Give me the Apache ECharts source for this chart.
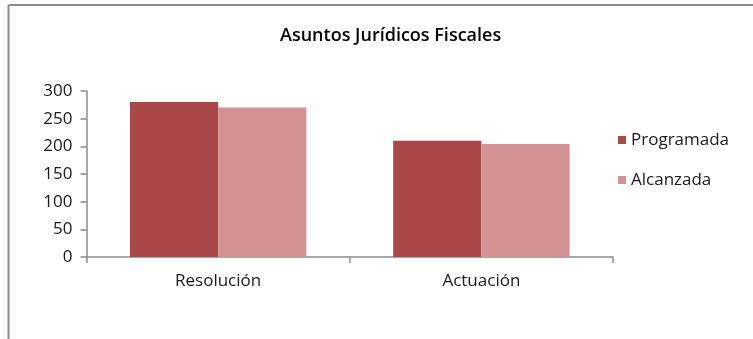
<!DOCTYPE html>
<html>
<head>
<meta charset="utf-8">
<script src="https://cdn.jsdelivr.net/npm/echarts@6/dist/echarts.min.js"></script>
<style>
  html, body { margin: 0; padding: 0; background: #ffffff; }
  #chart { width: 753px; height: 339px; }
</style>
</head>
<body>
<div id="chart"></div>
<script>
// Data
const chartTitle = 'Asuntos Jurídicos Fiscales';
const categories = ['Resolución', 'Actuación'];
const seriesNames = ['Programada', 'Alcanzada'];
const programada = [280, 210];
const alcanzada = [270, 204];
const yTicks = { min: 0, max: 300, interval: 50 };

const FONT = '"Open Sans"';
const axisGray = '#8c8c8c';
const colors = ['#a94846', '#d39291'];

const chart = echarts.init(document.getElementById('chart'), null, { renderer: 'canvas' });

chart.setOption({
  backgroundColor: '#ffffff',
  animation: false,
  title: {
    text: chartTitle,
    left: 275,
    top: 22,
    textStyle: { fontFamily: FONT, fontSize: 18, fontWeight: 600, color: '#000000' }
  },
  // panel frame (top and left edges)
  graphic: [
    { type: 'line', shape: { x1: 8.5, y1: 5, x2: 753, y2: 5 }, style: { stroke: axisGray, lineWidth: 2 } },
    { type: 'line', shape: { x1: 8.5, y1: 5, x2: 8.5, y2: 339 }, style: { stroke: axisGray, lineWidth: 2 } }
  ],
  legend: {
    orient: 'vertical',
    left: 613,
    top: 124,
    itemWidth: 8,
    itemHeight: 8,
    itemGap: 18,
    icon: 'rect',
    data: seriesNames,
    textStyle: { fontFamily: FONT, fontSize: 17, color: '#1a1a1a', lineHeight: 22 }
  },
  grid: { left: 86.5, right: 140, top: 91, bottom: 82, containLabel: false },
  xAxis: {
    type: 'category',
    data: categories,
    axisLine: { lineStyle: { color: axisGray, width: 1.5 } },
    axisTick: { show: true, length: 6, lineStyle: { color: axisGray, width: 1.5 } },
    axisLabel: { fontFamily: FONT, fontSize: 17, color: '#1a1a1a', margin: 16 }
  },
  yAxis: {
    type: 'value',
    min: yTicks.min,
    max: yTicks.max,
    interval: yTicks.interval,
    axisLine: { show: true, lineStyle: { color: axisGray, width: 1.5 } },
    axisTick: { show: true, length: 6, lineStyle: { color: axisGray, width: 1.5 } },
    splitLine: { show: false },
    axisLabel: { fontFamily: FONT, fontSize: 17, color: '#1a1a1a', margin: 14 }
  },
  series: [
    {
      name: seriesNames[0], type: 'bar', data: programada,
      barGap: '0%', barCategoryGap: '33%',
      itemStyle: { color: colors[0] }
    },
    {
      name: seriesNames[1], type: 'bar', data: alcanzada,
      barGap: '0%', barCategoryGap: '33%',
      itemStyle: { color: colors[1] }
    }
  ]
});
</script>
</body>
</html>
